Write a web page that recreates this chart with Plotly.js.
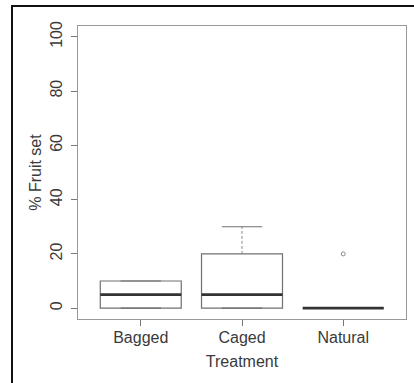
<!DOCTYPE html>
<html>
<head>
<meta charset="utf-8">
<script src="https://cdn.plot.ly/plotly-3.0.1.min.js"></script>
<style>
  html, body { margin: 0; padding: 0; background: #fff; }
  #wrap { position: relative; width: 414px; height: 383px; overflow: hidden; }
  #frame { position: absolute; left: 11px; top: 5px; width: 420px; height: 400px;
           border-left: 2px solid #111; border-top: 2px solid #111; box-sizing: border-box; }
  #chart { position: absolute; left: 0; top: 0; width: 414px; height: 383px; }
</style>
</head>
<body>
<div id="wrap">
  <div id="frame"></div>
  <div id="chart"></div>
</div>
<script>
// ---- data ----
var categories = ['Bagged', 'Caged', 'Natural'];
var q1Values = [0, 0, 0];
var medianValues = [5, 5, 0];
var q3Values = [10, 20, 0];
var lowerWhisker = [0, 0, 0];
var upperWhisker = [10, 30, 0];
var outlierCategory = ['Natural'];
var outlierValues = [20];
var yTickValues = [0, 20, 40, 60, 80, 100];

// ---- styling ----
var boxWidth = 0.8;
var capHalf = boxWidth * 0.25;
var boxColor = '#707070';
var positions = categories.map(function (c, i) { return i + 1; });

var traces = [];

// boxes (quartiles only; whiskers drawn dashed below)
traces.push({
  type: 'box',
  x: positions,
  q1: q1Values,
  median: medianValues,
  q3: q3Values,
  lowerfence: q1Values,
  upperfence: q3Values,
  width: boxWidth,
  whiskerwidth: 0,
  boxpoints: false,
  fillcolor: 'rgba(255,255,255,0)',
  line: { color: boxColor, width: 1.2 },
  hoverinfo: 'skip',
  showlegend: false
});

// dashed whiskers
var wx = [], wy = [];
categories.forEach(function (c, i) {
  var p = positions[i];
  wx.push(p, p, null, p, p, null);
  wy.push(q3Values[i], upperWhisker[i], null, q1Values[i], lowerWhisker[i], null);
});
traces.push({
  type: 'scatter', mode: 'lines', x: wx, y: wy,
  line: { color: '#8a8a8a', width: 1, dash: '3px,2px' },
  hoverinfo: 'skip', showlegend: false
});

// whisker caps
var cx = [], cy = [];
categories.forEach(function (c, i) {
  var p = positions[i];
  cx.push(p - capHalf, p + capHalf, null, p - capHalf, p + capHalf, null);
  cy.push(upperWhisker[i], upperWhisker[i], null, lowerWhisker[i], lowerWhisker[i], null);
});
traces.push({
  type: 'scatter', mode: 'lines', x: cx, y: cy,
  line: { color: boxColor, width: 1.2 },
  hoverinfo: 'skip', showlegend: false
});

// thick medians
var mx = [], my = [];
categories.forEach(function (c, i) {
  var p = positions[i];
  mx.push(p - boxWidth / 2, p + boxWidth / 2, null);
  my.push(medianValues[i], medianValues[i], null);
});
traces.push({
  type: 'scatter', mode: 'lines', x: mx, y: my,
  line: { color: '#333333', width: 2.6 },
  hoverinfo: 'skip', showlegend: false
});

// outliers
traces.push({
  type: 'scatter', mode: 'markers',
  x: outlierCategory.map(function (c) { return positions[categories.indexOf(c)]; }),
  y: outlierValues,
  marker: { symbol: 'circle-open', size: 4, color: '#888', line: { width: 1, color: '#888' } },
  hoverinfo: 'skip', showlegend: false
});

var layout = {
  width: 414, height: 383,
  margin: { l: 78, r: 8, t: 26, b: 64 },
  paper_bgcolor: 'rgba(0,0,0,0)',
  plot_bgcolor: '#fff',
  font: { family: 'Liberation Sans, Arial, sans-serif', size: 16, color: '#3a3a3a' },
  showlegend: false,
  xaxis: {
    range: [0.38, 3.62],
    tickvals: positions,
    ticktext: categories,
    ticks: 'outside', ticklen: 6, tickcolor: '#777', tickwidth: 1,
    ticklabelstandoff: -2,
    showgrid: false, zeroline: false,
    showline: true, mirror: true, linecolor: '#999', linewidth: 1.2,
    tickfont: { size: 16, color: '#3a3a3a' },
    title: { text: 'Treatment', font: { size: 16, color: '#3a3a3a' }, standoff: 10 }
  },
  yaxis: {
    range: [-4, 104],
    tickvals: yTickValues,
    ticktext: yTickValues.map(String),
    tickangle: -90,
    ticks: 'outside', ticklen: 6, tickcolor: '#777', tickwidth: 1,
    ticklabelstandoff: 2,
    showgrid: false, zeroline: false,
    showline: true, mirror: true, linecolor: '#999', linewidth: 1.2,
    tickfont: { size: 16, color: '#3a3a3a' },
    title: { text: '% Fruit set', font: { size: 16, color: '#3a3a3a' }, standoff: 2 }
  }
};

Plotly.newPlot('chart', traces, layout, { staticPlot: true, displayModeBar: false });
</script>
</body>
</html>
